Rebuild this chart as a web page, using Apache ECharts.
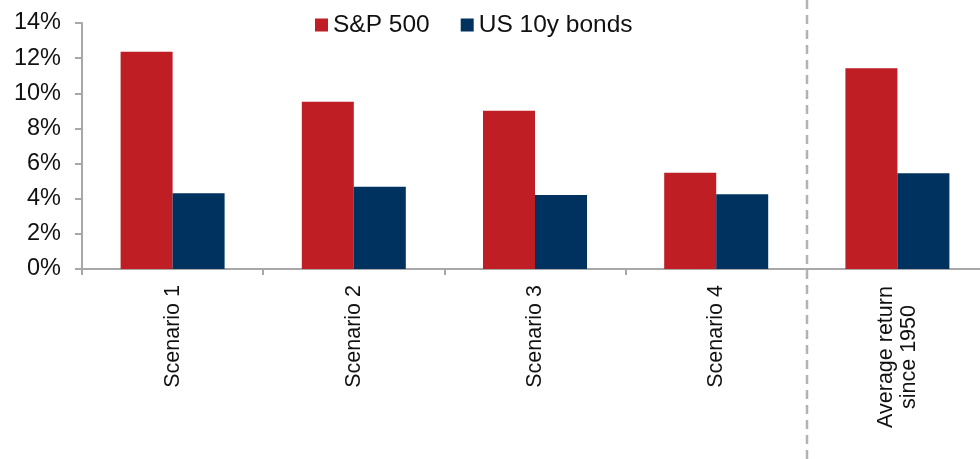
<!DOCTYPE html>
<html>
<head>
<meta charset="utf-8">
<script src="https://cdn.jsdelivr.net/npm/echarts@6/dist/echarts.min.js"></script>
<style>html,body{margin:0;padding:0;background:#fff;overflow:hidden}#c{width:980px;height:459px}</style>
</head>
<body>
<div id="c"></div>
<script>
var categories = ['Scenario 1', 'Scenario 2', 'Scenario 3', 'Scenario 4', 'Average return\nsince 1950'];
var sp500 = [12.37, 9.52, 9.01, 5.48, 11.42];
var bonds10y = [4.31, 4.68, 4.21, 4.25, 5.45];
var seriesNames = ['S&P 500', 'US 10y bonds'];
var yTicks = { min: 0, max: 14, interval: 2 };

var chart = echarts.init(document.getElementById('c'));
var font = '"Liberation Sans", Arial, sans-serif';
var axisGrey = '#a8a8a8';
chart.setOption({
  animation: false,
  textStyle: { fontFamily: font },
  legend: {
    left: 315, top: 12, padding: 0,
    itemWidth: 13, itemHeight: 13, itemGap: 31,
    icon: 'rect',
    textStyle: { fontSize: 24.5, color: '#111', fontFamily: font, lineHeight: 26 },
    data: seriesNames
  },
  grid: { left: 82, top: 23, width: 906, bottom: 190, containLabel: false, outerBoundsMode: 'none' },
  xAxis: {
    type: 'category',
    data: categories,
    axisLine: { lineStyle: { color: axisGrey, width: 2 } },
    axisTick: { show: true, length: 6, alignWithLabel: false, lineStyle: { color: axisGrey, width: 2 } },
    axisLabel: {
      rotate: 90, margin: 16, fontSize: 21.5, color: '#111', fontFamily: font, interval: 0,
      formatter: function (v) {
        if (v.indexOf('\n') < 0) return v;
        return v.split('\n').map(function (s) { return '{c|' + s + '}'; }).join('\n');
      },
      rich: { c: { width: 144, align: 'center', fontSize: 21.5, lineHeight: 23, color: '#111', fontFamily: font } }
    }
  },
  yAxis: {
    type: 'value',
    min: yTicks.min, max: yTicks.max, interval: yTicks.interval,
    axisLine: { show: true, lineStyle: { color: axisGrey, width: 2 } },
    axisTick: { show: true, length: 7, lineStyle: { color: axisGrey, width: 2 } },
    splitLine: { show: false },
    axisLabel: { formatter: '{value}%', fontSize: 23.5, color: '#111', margin: 21, fontFamily: font }
  },
  series: [
    { name: seriesNames[0], type: 'bar', data: sp500, barWidth: 52, barGap: '0%', itemStyle: { color: '#BE1E24' } },
    { name: seriesNames[1], type: 'bar', data: bonds10y, barWidth: 52, barGap: '0%', itemStyle: { color: '#00325F' } }
  ]
});

// dashed separator between the scenarios and the long-run average
var c3 = chart.convertToPixel({ xAxisIndex: 0 }, categories[3]);
var c4 = chart.convertToPixel({ xAxisIndex: 0 }, categories[4]);
var sx = Math.round((c3 + c4) / 2);
chart.setOption({
  graphic: [{
    type: 'line', silent: true, z: 10,
    shape: { x1: sx, y1: 0, x2: sx, y2: 459 },
    style: { stroke: '#b3b3b3', lineWidth: 2.5, lineDash: [9, 6] }
  }]
});
</script>
</body>
</html>
